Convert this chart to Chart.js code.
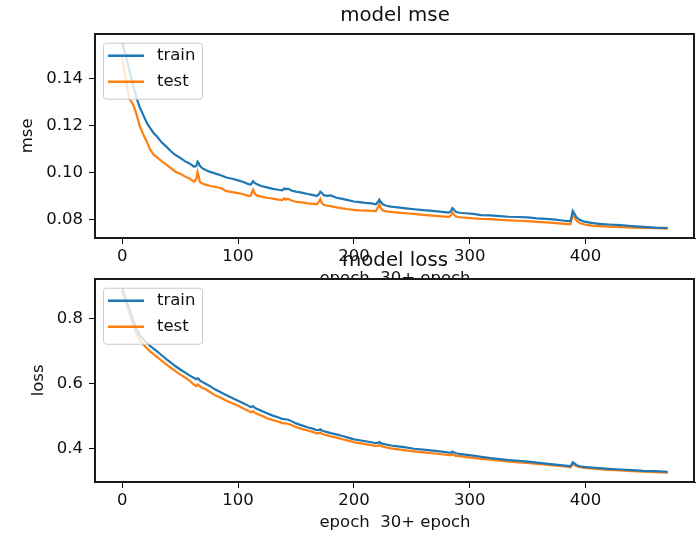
<!DOCTYPE html>
<html>
<head>
<meta charset="utf-8">
<script src="https://cdn.jsdelivr.net/npm/chart.js@4.4.0/dist/chart.umd.min.js"></script>
<style>
    html, body { margin: 0; padding: 0; background: #fff; overflow: hidden; }
    #wrap { position: relative; width: 700px; height: 536px; }
    #mseChart { position: absolute; left: 0; top: 0; }
    #lossChart { position: absolute; left: 0; top: 245px; }
</style>
</head>
<body>
<div id="wrap">
    <canvas id="mseChart" width="700" height="293"></canvas>
    <canvas id="lossChart" width="700" height="291"></canvas>
</div>
<script>
const epochs = [
    0, 3, 6, 9, 12, 15, 18, 21, 24, 27,
    30, 34, 38, 42, 46, 50, 54, 58, 62, 64,
    65, 66, 67, 69, 72, 76, 80, 85, 90, 95,
    100, 105, 109, 111, 112, 113, 114, 116, 120, 125,
    130, 135, 138, 140, 141, 143, 146, 150, 155, 160,
    165, 168, 170, 171, 172, 174, 177, 180, 185, 190,
    195, 200, 205, 210, 215, 219, 221, 222, 223, 225,
    228, 232, 238, 245, 252, 260, 268, 276, 282, 284,
    285, 286, 288, 291, 296, 303, 310, 318, 326, 334,
    342, 350, 358, 366, 374, 380, 385, 387, 388, 389,
    390, 392, 395, 399, 405, 412, 420, 430, 440, 450,
    460, 471
];

const mseTrain = [
    0.1553, 0.1500, 0.1440, 0.1380, 0.1325, 0.1280, 0.1248, 0.1215, 0.1192, 0.1170,
    0.1155, 0.1130, 0.1112, 0.1092, 0.1076, 0.1064, 0.1050, 0.1040, 0.1026, 0.1030,
    0.1048, 0.1042, 0.1030, 0.1020, 0.1012, 0.1004, 0.0998, 0.0990, 0.0980, 0.0975,
    0.0968, 0.0960, 0.0952, 0.0950, 0.0958, 0.0964, 0.0958, 0.0952, 0.0944, 0.0938,
    0.0932, 0.0928, 0.0926, 0.0934, 0.0930, 0.0933, 0.0925, 0.0920, 0.0916, 0.0910,
    0.0905, 0.0901, 0.0910, 0.0920, 0.0916, 0.0905, 0.0902, 0.0904, 0.0894, 0.0889,
    0.0884, 0.0878, 0.0875, 0.0872, 0.0870, 0.0866, 0.0878, 0.0886, 0.0878, 0.0866,
    0.0860, 0.0856, 0.0853, 0.0849, 0.0845, 0.0841, 0.0838, 0.0834, 0.0831, 0.0838,
    0.0850, 0.0846, 0.0834, 0.0830, 0.0828, 0.0825, 0.0820, 0.0819, 0.0816, 0.0813,
    0.0812, 0.0810, 0.0806, 0.0804, 0.0801, 0.0797, 0.0794, 0.0795, 0.0815, 0.0838,
    0.0830, 0.0812, 0.0800, 0.0792, 0.0787, 0.0783, 0.0780, 0.0777, 0.0773, 0.0770,
    0.0767, 0.0765
];

const mseTest = [
    0.1490, 0.1400, 0.1315, 0.1295, 0.1255, 0.1200, 0.1165, 0.1135, 0.1100, 0.1078,
    0.1066, 0.1050, 0.1035, 0.1020, 0.1005, 0.0996, 0.0985, 0.0976, 0.0962, 0.0975,
    0.1004, 0.0985, 0.0962, 0.0955, 0.0950, 0.0944, 0.0941, 0.0935, 0.0922, 0.0918,
    0.0914, 0.0908, 0.0902, 0.0903, 0.0918, 0.0928, 0.0915, 0.0904, 0.0899, 0.0894,
    0.0890, 0.0886, 0.0884, 0.0892, 0.0886, 0.0890, 0.0882, 0.0877, 0.0874, 0.0870,
    0.0868, 0.0866, 0.0878, 0.0888, 0.0874, 0.0864, 0.0860, 0.0858, 0.0853, 0.0849,
    0.0845, 0.0842, 0.0840, 0.0839, 0.0838, 0.0837, 0.0855, 0.0867, 0.0852, 0.0840,
    0.0836, 0.0834, 0.0831, 0.0828, 0.0825, 0.0821, 0.0818, 0.0815, 0.0813, 0.0820,
    0.0831, 0.0825, 0.0814, 0.0811, 0.0809, 0.0806, 0.0804, 0.0803, 0.0800, 0.0798,
    0.0796, 0.0794, 0.0791, 0.0789, 0.0786, 0.0784, 0.0782, 0.0782, 0.0800, 0.0824,
    0.0815, 0.0798, 0.0786, 0.0780, 0.0775, 0.0773, 0.0771, 0.0769, 0.0767, 0.0765,
    0.0764, 0.0762
];

const lossTrain = [
    0.895, 0.862, 0.832, 0.800, 0.772, 0.750, 0.738, 0.727, 0.717, 0.708,
    0.700, 0.688, 0.676, 0.665, 0.654, 0.644, 0.635, 0.626, 0.618, 0.614,
    0.617, 0.615, 0.610, 0.606, 0.600, 0.592, 0.583, 0.574, 0.565, 0.556,
    0.548, 0.539, 0.532, 0.528, 0.530, 0.531, 0.527, 0.523, 0.517, 0.509,
    0.502, 0.496, 0.492, 0.491, 0.490, 0.490, 0.485, 0.478, 0.472, 0.466,
    0.461, 0.457, 0.458, 0.460, 0.457, 0.454, 0.451, 0.448, 0.444, 0.439,
    0.434, 0.429, 0.426, 0.423, 0.420, 0.417, 0.418, 0.421, 0.418, 0.415,
    0.413, 0.410, 0.407, 0.404, 0.400, 0.397, 0.394, 0.391, 0.388, 0.388,
    0.391, 0.389, 0.386, 0.384, 0.382, 0.379, 0.375, 0.371, 0.368, 0.365,
    0.363, 0.360, 0.357, 0.354, 0.351, 0.349, 0.347, 0.346, 0.351, 0.358,
    0.356, 0.350, 0.346, 0.344, 0.342, 0.340, 0.338, 0.336, 0.334, 0.332,
    0.331, 0.329
];

const lossTest = [
    0.885, 0.850, 0.818, 0.786, 0.757, 0.735, 0.722, 0.710, 0.700, 0.691,
    0.683, 0.671, 0.660, 0.649, 0.639, 0.629, 0.620, 0.610, 0.597, 0.593,
    0.598, 0.596, 0.592, 0.588, 0.583, 0.574, 0.565, 0.557, 0.548, 0.540,
    0.532, 0.523, 0.516, 0.512, 0.514, 0.516, 0.512, 0.508, 0.502, 0.494,
    0.488, 0.483, 0.479, 0.478, 0.478, 0.477, 0.473, 0.467, 0.461, 0.456,
    0.451, 0.447, 0.448, 0.450, 0.447, 0.444, 0.441, 0.438, 0.434, 0.429,
    0.425, 0.420, 0.417, 0.414, 0.411, 0.408, 0.409, 0.412, 0.409, 0.406,
    0.404, 0.401, 0.398, 0.395, 0.392, 0.389, 0.386, 0.383, 0.380, 0.380,
    0.383, 0.381, 0.378, 0.377, 0.375, 0.372, 0.369, 0.366, 0.363, 0.361,
    0.358, 0.356, 0.353, 0.351, 0.348, 0.346, 0.344, 0.343, 0.347, 0.352,
    0.351, 0.347, 0.343, 0.341, 0.339, 0.337, 0.335, 0.333, 0.331, 0.329,
    0.328, 0.326
];

//tick labels
const xTicks = [0, 100, 200, 300, 400];
const mseTicks = [0.08, 0.10, 0.12, 0.14];
const lossTicks = [0.4, 0.6, 0.8];

const TRAIN_COLOR = '#1f77b4';
const TEST_COLOR = '#ff7f0e';
const FONT = '"DejaVu Sans", "Liberation Sans", sans-serif';

Chart.defaults.font.family = FONT;
Chart.defaults.color = '#111';

function toPoints(values) {
    return epochs.map((e, i) => ({ x: e, y: values[i] }));
}

//black box round the axes, 2px so the thin edges survive
function drawFrame(ctx, a) {
    const l = Math.round(a.left), t = Math.round(a.top);
    const r = Math.round(a.right), b = Math.round(a.bottom);
    ctx.save();
    ctx.fillStyle = '#1a1a1a';
    ctx.fillRect(l - 1, t - 1, r - l + 1, 2);
    ctx.fillRect(l - 1, b - 1, r - l + 1, 2);
    ctx.fillRect(l - 1, t - 1, 2, b - t + 1);
    ctx.fillRect(r - 2, t - 1, 2, b - t + 1);
    ctx.restore();
}

//white axes patch, frame and the legend box inside the axes
const axesBox = {
    id: 'axesBox',
    beforeDraw(chart) {
        const a = chart.chartArea;
        const ctx = chart.ctx;
        ctx.save();
        ctx.fillStyle = '#fff';
        ctx.fillRect(a.left, a.top, a.right - a.left, a.bottom - a.top);
        ctx.restore();
    },
    afterDraw(chart) {
        const a = chart.chartArea;
        const ctx = chart.ctx;
        drawFrame(ctx, a);

        //legend, upper left
        const lx = a.left + 8, ly = a.top + 9, lw = 99, lh = 56;
        ctx.save();
        ctx.beginPath();
        ctx.roundRect(lx + 0.5, ly + 0.5, lw, lh, 3);
        ctx.fillStyle = 'rgba(255,255,255,0.8)';
        ctx.fill();
        ctx.strokeStyle = '#cccccc';
        ctx.lineWidth = 1;
        ctx.stroke();
        chart.data.datasets.forEach((ds, i) => {
            const y = ly + 13 + i * 26;
            ctx.beginPath();
            ctx.moveTo(lx + 5, y);
            ctx.lineTo(lx + 41, y);
            ctx.strokeStyle = ds.borderColor;
            ctx.lineWidth = 2.5;
            ctx.stroke();
            ctx.fillStyle = '#111';
            ctx.font = '16.5px ' + FONT;
            ctx.textBaseline = 'middle';
            ctx.fillText(ds.label, lx + 54, y);
        });
        ctx.restore();
    }
};

function makeChart(id, title, yLabel, yTitlePad, yMin, yMax, yTicks, digits, train, test, xAxisHeight, xTitlePad) {
    const ctx = document.getElementById(id).getContext('2d');
    return new Chart(ctx, {
        type: 'line',
        data: {
            datasets: [
                {
                    label: 'train',
                    data: toPoints(train),
                    borderColor: TRAIN_COLOR,
                    borderWidth: 2.2,
                    pointRadius: 0,
                    tension: 0,
                    fill: false
                }, {
                    label: 'test',
                    data: toPoints(test),
                    borderColor: TEST_COLOR,
                    borderWidth: 2.2,
                    pointRadius: 0,
                    tension: 0,
                    fill: false
                }
            ]
        },
        options: {
            responsive: false,
            animation: false,
            devicePixelRatio: 1,
            layout: { padding: { left: 0, right: 5, top: 0, bottom: 0 } },
            plugins: {
                legend: { display: false },
                tooltip: { enabled: false },
                title: {
                    display: true,
                    text: title,
                    fullSize: false,
                    color: '#111',
                    font: { size: 19.8, weight: 'normal' },
                    padding: { top: 4, bottom: 6 }
                }
            },
            scales: {
                x: {
                    type: 'linear',
                    min: -23.55,
                    max: 494.55,
                    afterBuildTicks: (s) => { s.ticks = xTicks.map(v => ({ value: v })); },
                    afterFit: (s) => { s.height = xAxisHeight; },
                    grid: { drawOnChartArea: false, drawTicks: true, tickLength: 6, tickColor: '#000' },
                    border: { color: '#000' },
                    ticks: {
                        autoSkip: false,
                        maxRotation: 0,
                        padding: 3,
                        font: { size: 16.5 },
                        callback: (v) => String(v)
                    },
                    title: {
                        display: true,
                        text: 'epoch  30+ epoch',
                        font: { size: 16.5 },
                        padding: { top: 0, bottom: xTitlePad }
                    }
                },
                y: {
                    type: 'linear',
                    min: yMin,
                    max: yMax,
                    afterBuildTicks: (s) => { s.ticks = yTicks.map(v => ({ value: v })); },
                    afterFit: (s) => { s.width = 95; },
                    grid: { drawOnChartArea: false, drawTicks: true, tickLength: 6, tickColor: '#000' },
                    border: { color: '#000' },
                    ticks: {
                        padding: 6,
                        font: { size: 16.5 },
                        callback: (v) => Number(v).toFixed(digits)
                    },
                    title: {
                        display: true,
                        text: yLabel,
                        font: { size: 16.5 },
                        padding: { top: yTitlePad, bottom: 0 }
                    }
                }
            }
        },
        plugins: [axesBox]
    });
}

makeChart('mseChart', 'model mse', 'mse', 17.6, 0.07225, 0.15926, mseTicks, 2,
    mseTrain, mseTest, 55, 4);
makeChart('lossChart', 'model loss', 'loss', 29, 0.2975, 0.9235, lossTicks, 1,
    lossTrain, lossTest, 54, 3);
</script>
</body>
</html>
